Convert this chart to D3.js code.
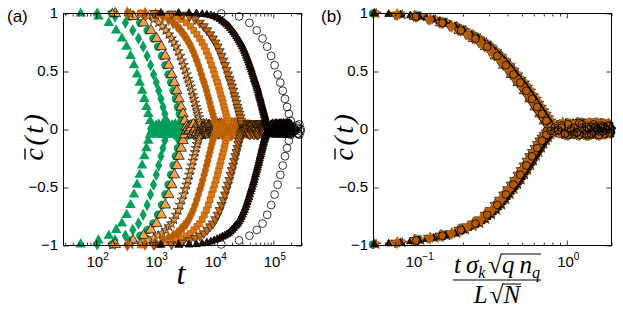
<!DOCTYPE html>
<html><head><meta charset="utf-8">
<script src="https://cdn.jsdelivr.net/npm/d3@7"></script>
<style>body{margin:0;background:#fff}svg{display:block}</style>
</head><body>
<svg id="c" width="623" height="312"></svg>
<script>
// ---------------- data ----------------
// reduced time sampled on the simulation grid
const reducedTime = [
 0.0125,0.025,0.0375,0.05,0.0625,0.075,0.0875,0.1,
 0.1125,0.125,0.1375,0.15,0.1625,0.175,0.1875,0.2,
 0.2125,0.225,0.2375,0.25,0.2625,0.275,0.2875,0.3,
 0.3125,0.325,0.3375,0.35,0.3625,0.375,0.3875,0.4,
 0.4125,0.425,0.4375,0.45,0.4625,0.475,0.4875,0.5,
 0.5125,0.525,0.5375,0.55,0.5625,0.575,0.5875,0.6,
 0.6125,0.625,0.6375,0.65,0.6625,0.675,0.6875,0.7,
 0.7125,0.725,0.7375,0.75,0.7625,0.775,0.7875,0.8,
 0.8125,0.825,0.8375,0.85,0.8625,0.875,0.8875,0.9,
 0.9125,0.925,0.9375,0.95,0.9625,0.975,0.9875,1.0,
 1.0125,1.025,1.0375,1.05,1.0625,1.075,1.0875,1.1,
 1.1125,1.125,1.1375,1.15,1.1625,1.175,1.1875,1.2,
 1.2125,1.225,1.2375,1.25,1.2625,1.275,1.2875,1.3,
 1.3125,1.325,1.3375,1.35,1.3625,1.375,1.3875,1.4,
 1.4125,1.425,1.4375,1.45,1.4625,1.475,1.4875,1.5,
 1.5125,1.525,1.5375,1.55,1.5625,1.575,1.5875,1.6,
 1.6125,1.625,1.6375,1.65,1.6625,1.675,1.6875,1.7,
 1.7125,1.725,1.7375,1.75,1.7625,1.775,1.7875,1.8,
 1.8125,1.825,1.8375,1.85,1.8625,1.875,1.8875,1.9,
 1.9125,1.925,1.9375,1.95,1.9625,1.975,1.9875,2.0];
// c-bar(t) for runs started at +1
const upperBranch = [
 1.00,1.00,0.998,0.995,0.99,0.985,0.978,0.97,
 0.958,0.945,0.93,0.915,0.90,0.885,0.868,0.85,
 0.832,0.815,0.798,0.78,0.762,0.745,0.728,0.71,
 0.69,0.67,0.65,0.63,0.61,0.59,0.57,0.55,
 0.53,0.51,0.49,0.47,0.45,0.43,0.415,0.40,
 0.383,0.365,0.348,0.33,0.31,0.29,0.275,0.26,
 0.243,0.225,0.208,0.19,0.175,0.16,0.145,0.13,
 0.115,0.10,0.085,0.07,0.057,0.045,0.032,0.02,
 0.012,0.005,
 0.01,-0.02,0.03,0.00,0.02,-0.01,0.04,-0.03,0.01,0.03,
 -0.02,0.05,0.00,-0.04,0.02,0.01,-0.03,0.04,-0.01,0.02,
 0.05,-0.02,0.00,0.03,-0.05,0.01,0.04,-0.01,0.02,-0.03,
 0.03,0.00,-0.04,0.05,0.01,-0.02,0.02,0.04,-0.03,0.00,
 0.03,-0.01,0.05,-0.04,0.01,0.02,-0.02,0.04,0.00,-0.05,
 0.03,0.01,-0.03,0.02,0.05,-0.01,0.00,0.04,-0.02,0.03,
 -0.04,0.01,0.02,0.05,-0.03,0.00,0.03,-0.01,0.04,-0.05,
 0.02,0.01,-0.02,0.03,0.05,-0.04,0.00,0.02,-0.01,0.04,
 -0.03,0.01,0.03,-0.02,0.05,0.00,-0.04,0.02,0.01,0.03,
 -0.01,0.04,-0.02,0.00];
// c-bar(t) for runs started at -1
const lowerBranch = [
 -1.00,-1.00,-0.998,-0.995,-0.988,-0.98,-0.97,-0.96,
 -0.95,-0.94,-0.93,-0.92,-0.91,-0.90,-0.885,-0.87,
 -0.855,-0.84,-0.828,-0.815,-0.798,-0.78,-0.76,-0.74,
 -0.72,-0.70,-0.678,-0.655,-0.632,-0.61,-0.588,-0.565,
 -0.542,-0.52,-0.50,-0.48,-0.46,-0.44,-0.418,-0.395,
 -0.375,-0.355,-0.335,-0.315,-0.295,-0.275,-0.255,-0.235,
 -0.218,-0.20,-0.182,-0.165,-0.148,-0.13,-0.115,-0.10,
 -0.088,-0.075,-0.062,-0.05,-0.04,-0.03,-0.022,-0.015,
 -0.01,-0.005,
 -0.02,0.01,-0.04,0.00,0.03,-0.01,-0.03,0.02,-0.05,0.01,
 0.04,-0.02,0.00,-0.04,0.03,0.01,-0.01,-0.05,0.02,0.04,
 -0.03,0.00,0.02,-0.02,0.05,-0.04,0.01,0.03,-0.01,-0.03,
 0.02,0.00,0.04,-0.05,-0.01,0.03,-0.02,0.01,0.05,-0.03,
 0.00,-0.04,0.02,0.03,-0.01,-0.05,0.04,0.01,-0.02,0.00,
 -0.03,0.05,0.02,-0.04,0.01,-0.01,0.03,-0.02,0.00,0.04,
 -0.05,0.02,-0.03,0.01,0.03,-0.01,-0.04,0.05,0.00,-0.02,
 0.02,-0.03,0.04,0.01,-0.05,0.00,0.03,-0.02,-0.01,0.04,
 0.01,-0.04,0.02,-0.03,0.05,-0.01,0.00,0.03,-0.05,0.02,
 -0.02,0.01,0.04,-0.03];
const seriesNames    = ["gTri","gDia","gCir","oTri","oStar","bSq","lDia","bTri","blk","open"];
// time scale of each run in panel (a): t = reducedTime * tau
const seriesTau      = [1114,2124,3800,4310,7700,13750,23040,38700,101800,267700];
// ratio of the panel (b) scaling variable to reducedTime (imperfect collapse)
const seriesCollapse = [1.02,0.99,1.00,0.95,1.05,0.97,1.04,0.94,1.02,0.98];
// sampling interval of each run, in grid steps
const seriesStride   = [4,4,4,4,2,2,2,2,1,4];
const yTicks  = [-1,-0.5,0,0.5,1];
const xTicksA = [1e2,1e3,1e4,1e5];
const xTicksB = [0.1,1];
const xExpA = ["2","3","4","5"];
const xExpB = ["\u22121","0"];

// ---------------- styles ----------------
const GREEN="#009e5b", LORANGE="#f7a24b", BROWN="#b35a00";
const style = {
  gTri:{t:d3.symbolTriangle,s:48,f:GREEN,st:"none",w:0},
  gDia:{t:d3.symbolDiamond,s:44,f:GREEN,st:"none",w:0},
  gCir:{t:d3.symbolCircle,s:56,f:GREEN,st:"none",w:0},
  oTri:{t:d3.symbolTriangle,s:48,f:LORANGE,st:"#000",w:0.7},
  oStar:{t:d3.symbolStar,s:30,f:LORANGE,st:"#000",w:0.6},
  bSq:{t:d3.symbolDiamond,s:44,f:BROWN,st:"#c8701a",w:0.6},
  lDia:{t:d3.symbolSquare,s:36,f:"#d9781c",st:BROWN,w:0.7},
  bTri:{t:d3.symbolTriangle,s:36,f:"#c46a14",st:"#000",w:0.6,rot:180},
  blk:{t:d3.symbolTriangle,s:26,f:"#2a1200",st:"#000",w:0.8},
  open:{t:d3.symbolCircle,s:48,f:"none",st:"#000",w:0.8}
};

const svg = d3.select("#c");
const TOP=13, BOT=245;
const y = d3.scaleLinear().domain([-1,1]).range([BOT,TOP]);
const panels = [
  {x:d3.scaleLog().domain([28,3e5]).range([63,301]), ticks:xTicksA, exps:xExpA, scaled:false,
   order:[0,1,2,3,4,5,6,7,8,9], label:"(a)", lx:7},
  {x:d3.scaleLog().domain([0.05,2]).range([373,611]), ticks:xTicksB, exps:xExpB, scaled:true,
   order:[0,1,2,4,3,6,8,7,5,9], label:"(b)", lx:321}
];
const SANS="Liberation Sans, Arial, Helvetica, sans-serif";
const SERIF="Liberation Serif, Times New Roman, serif";

panels.forEach(p=>{
  const [L,R] = p.x.range();
  const [d0,d1] = p.x.domain();
  const g = svg.append("g");
  // markers
  p.order.forEach(i=>{
    const name = seriesNames[i], st = style[name];
    const pts = [];
    reducedTime.forEach((r,j)=>{
      if ((j+1) % seriesStride[i] !== 0) return;
      const xv = p.scaled ? r*seriesCollapse[i] : r*seriesTau[i];
      if (xv < d0*0.999 || xv > d1*1.001) return;
      pts.push({x:xv,c:upperBranch[j]});
      pts.push({x:xv,c:lowerBranch[j]});
    });
    const sym = d3.symbol().type(st.t).size(st.s);
    g.append("g").selectAll("path").data(pts).join("path")
      .attr("d",sym)
      .attr("transform",d=>`translate(${p.x(d.x)},${y(d.c)})`+(st.rot?` rotate(${st.rot})`:""))
      .attr("fill",st.f).attr("stroke",st.st).attr("stroke-width",st.w);
  });
  // frame
  g.append("rect").attr("x",L+0.5).attr("y",TOP+0.5).attr("width",R-L).attr("height",BOT-TOP)
    .attr("fill","none").attr("stroke","#000").attr("stroke-width",1);
  // minor ticks
  const minor=[];
  for(let e=Math.floor(Math.log10(d0)); e<=Math.ceil(Math.log10(d1)); e++)
    for(let m=2;m<=9;m++){const v=m*Math.pow(10,e); if(v>=d0&&v<=d1) minor.push(v);}
  const axes = [
    [d3.axisBottom(p.x).tickValues(p.ticks).tickSize(-5), `translate(0.5,${BOT+0.5})`],
    [d3.axisBottom(p.x).tickValues(minor).tickSize(-3), `translate(0.5,${BOT+0.5})`],
    [d3.axisTop(p.x).tickValues(p.ticks).tickSize(-5), `translate(0.5,${TOP+0.5})`],
    [d3.axisTop(p.x).tickValues(minor).tickSize(-3), `translate(0.5,${TOP+0.5})`],
    [d3.axisLeft(y).tickValues(yTicks).tickSize(-5), `translate(${L+0.5},0.5)`],
    [d3.axisRight(y).tickValues(yTicks).tickSize(-5), `translate(${R+0.5},0.5)`]
  ];
  axes.forEach(([ax,tr])=>{
    const a = g.append("g").attr("transform",tr).call(ax.tickFormat(""));
    a.select(".domain").remove();
    a.selectAll("text").remove();
    a.selectAll("line").attr("stroke","#000").attr("stroke-width",0.8);
  });
  // y tick labels
  g.selectAll(".yl").data(yTicks).join("text")
    .attr("x",L-5).attr("y",d=>y(d)+5.2).attr("text-anchor","end")
    .attr("font-family",SANS).attr("font-size",15).attr("fill","#000")
    .text(d=> d===0?"0": (d<0?"\u2212":"")+String(Math.abs(d)));
  // x tick labels
  p.ticks.forEach((v,k)=>{
    const t = g.append("text").attr("x",p.x(v)+2).attr("y",267).attr("text-anchor","middle")
      .attr("font-family",SANS).attr("font-size",15).attr("fill","#000");
    t.append("tspan").text("10");
    t.append("tspan").attr("font-size",10).attr("dy",-7).text(p.exps[k]);
  });
  // panel label
  g.append("text").attr("x",p.lx).attr("y",22).attr("font-family",SANS)
    .attr("font-size",17).text(p.label);
  // y label c-bar(t)
  const yl = g.append("g").attr("transform",`translate(${L-20},136) rotate(-90)`);
  const yt = yl.append("text").attr("text-anchor","middle")
    .attr("font-family",SERIF).attr("font-style","italic")
    .attr("font-size",28).attr("letter-spacing",2.5).text("c(t)");
  const e0 = yt.node().getExtentOfChar(0);
  yl.append("line").attr("x1",e0.x+1).attr("x2",e0.x+e0.width-3)
    .attr("y1",-18).attr("y2",-18).attr("stroke","#000").attr("stroke-width",1.4);
});

// x label panel (a)
svg.append("text").attr("x",181).attr("y",284).attr("text-anchor","middle")
  .attr("font-family",SERIF).attr("font-style","italic")
  .attr("font-size",32).text("t");

// x label panel (b): fraction
const num = svg.append("text").attr("x",497).attr("y",273).attr("text-anchor","middle")
  .attr("font-family",SERIF).attr("font-size",25);
num.append("tspan").attr("font-style","italic").text("t");
num.append("tspan").attr("font-style","italic").attr("dx",5).text("\u03c3");
num.append("tspan").attr("font-style","italic").attr("font-size",16).attr("dy",5).text("k");
num.append("tspan").attr("dy",-5).attr("dx",3).text("\u221a");
num.append("tspan").attr("font-style","italic").text("q");
num.append("tspan").attr("font-style","italic").attr("dx",5).text("n");
num.append("tspan").attr("font-style","italic").attr("font-size",16).attr("dy",5).text("q");
const nn = num.node();
const nChars = nn.getNumberOfChars();
const sq = nn.getExtentOfChar(3), last = nn.getExtentOfChar(nChars-1);
svg.append("line").attr("x1",sq.x+sq.width-0.5).attr("x2",last.x+last.width+1)
  .attr("y1",sq.y+3).attr("y2",sq.y+3).attr("stroke","#000").attr("stroke-width",1);
const nb = nn.getBBox();
svg.append("line").attr("x1",nb.x-1).attr("x2",nb.x+nb.width+1).attr("y1",280).attr("y2",280)
  .attr("stroke","#000").attr("stroke-width",1);
const den = svg.append("text").attr("x",497).attr("y",303).attr("text-anchor","middle")
  .attr("font-family",SERIF).attr("font-size",25);
den.append("tspan").attr("font-style","italic").text("L");
den.append("tspan").attr("dx",2).text("\u221a");
den.append("tspan").attr("font-style","italic").text("N");
const dn = den.node();
const sq2 = dn.getExtentOfChar(1), l2 = dn.getExtentOfChar(2);
svg.append("line").attr("x1",sq2.x+sq2.width-0.5).attr("x2",l2.x+l2.width+1)
  .attr("y1",sq2.y+3).attr("y2",sq2.y+3).attr("stroke","#000").attr("stroke-width",1);
</script>
</body></html>
